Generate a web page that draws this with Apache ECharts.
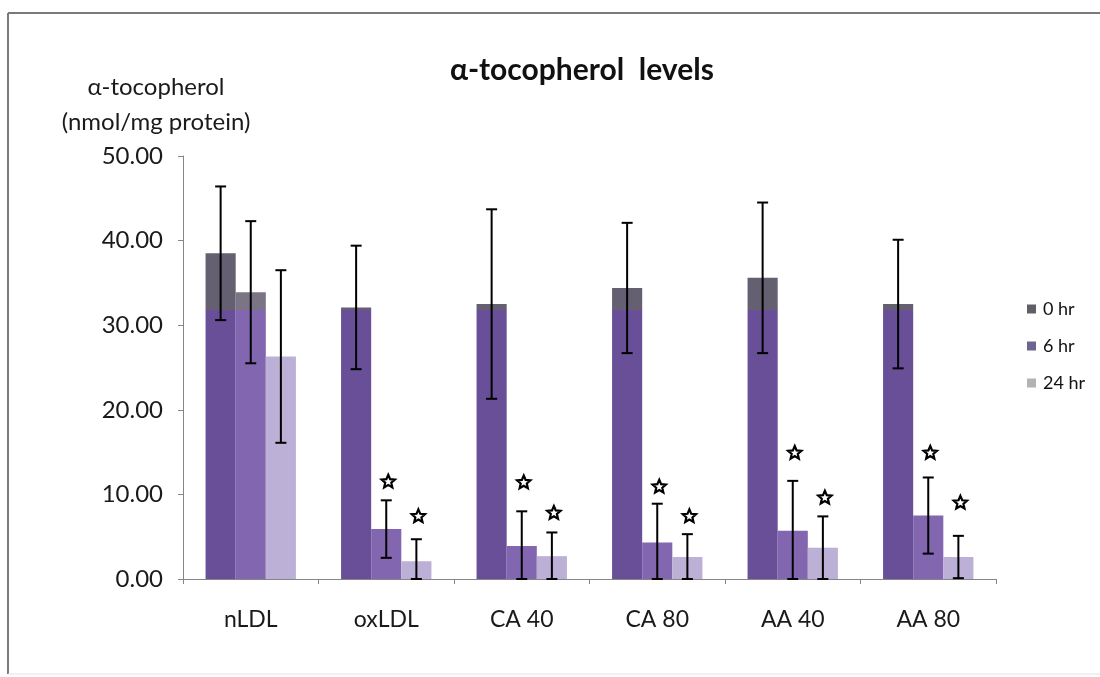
<!DOCTYPE html>
<html>
<head>
<meta charset="utf-8">
<title>α-tocopherol levels</title>
<script src="https://cdn.jsdelivr.net/npm/echarts@6/dist/echarts.min.js"></script>
<style>
  html, body { margin: 0; padding: 0; background: #ffffff; }
  #chart { width: 1100px; height: 677px; }
</style>
</head>
<body>
<div id="chart"></div>
<script>
// Groups along the x axis
var categories = ['nLDL', 'oxLDL', 'CA 40', 'CA 80', 'AA 40', 'AA 80'];

// Mean α-tocopherol (nmol/mg protein) per time point
var hr0  = [38.5, 32.1, 32.5, 34.4, 35.6, 32.5];
var hr6  = [33.9, 5.9, 3.9, 4.3, 5.7, 7.5];
var hr24 = [26.3, 2.1, 2.7, 2.6, 3.7, 2.6];

// Standard deviations
var err0  = [7.9, 7.3, 11.2, 7.7, 8.9, 7.6];
var err6  = [8.4, 3.4, 4.1, 4.6, 5.9, 4.5];
var err24 = [10.2, 2.6, 2.8, 2.7, 3.7, 2.5];

// Significance markers (value level where the star sits; null = none)
var star6  = [null, 11.5, 11.4, 10.9, 14.9, 14.9];
var star24 = [null, 7.4, 7.8, 7.4, 9.6, 9.0];

// Y axis ticks
var yTicks = { min: 0, max: 50, interval: 10 };

var seriesNames = ['0 hr', '6 hr', '24 hr'];
var FONT = 'Lato, "Open Sans", sans-serif';
var CAT_GAP = 0.333;   // share of each category left empty
var CHART_H = 677;
var SPLIT_Y = 310;     // pixel row where the bar tint changes

function barFill(upper, lower) {
  var s = SPLIT_Y / CHART_H;
  return new echarts.graphic.LinearGradient(0, 0, 0, CHART_H, [
    { offset: 0, color: upper },
    { offset: s, color: upper },
    { offset: s, color: lower },
    { offset: 1, color: lower }
  ], true);
}

var fills = [
  barFill('#645f71', '#684f98'),
  barFill('#7a7485', '#8266b0'),
  barFill('#c4bfca', '#bdb0d7')
];
var legendColors = ['#5f5f66', '#6b6690', '#b3b3b6'];

function starPoints(cx, cy, rOut, rIn) {
  var pts = [];
  for (var k = 0; k < 10; k++) {
    var r = k % 2 === 0 ? rOut : rIn;
    var a = -Math.PI / 2 + k * Math.PI / 5;
    pts.push([cx + r * Math.cos(a), cy + r * Math.sin(a)]);
  }
  return pts;
}

// Error bars (and significance stars) drawn on top of the bars of one series
function errorSeries(idx, means, errs, stars) {
  var data = means.map(function (m, i) {
    return [i, m, errs[i], stars ? stars[i] : null];
  });
  return {
    type: 'custom',
    name: seriesNames[idx] + ' error',
    z: 10,
    silent: true,
    data: data,
    encode: { x: 0, y: 1 },
    renderItem: function (params, api) {
      var cat = api.value(0);
      var mean = api.value(1);
      var err = api.value(2);
      var star = api.value(3);
      var band = api.size([1, 0])[0];
      var barW = band * (1 - CAT_GAP) / 3;
      var center = api.coord([cat, mean])[0] + (idx - 1) * barW;
      var top = api.coord([cat, mean + err])[1];
      var bottom = api.coord([cat, Math.max(0, mean - err)])[1];
      var half = 5.5;
      var style = { stroke: '#000000', lineWidth: 2 };
      var children = [
        { type: 'line', shape: { x1: center, y1: top, x2: center, y2: bottom }, style: style },
        { type: 'line', shape: { x1: center - half, y1: top, x2: center + half, y2: top }, style: style },
        { type: 'line', shape: { x1: center - half, y1: bottom, x2: center + half, y2: bottom }, style: style }
      ];
      if (star != null && !isNaN(star)) {
        var sy = api.coord([cat, star])[1];
        children.push({
          type: 'polygon',
          shape: { points: starPoints(center + 2, sy, 7, 3.2) },
          style: { fill: '#ffffff', stroke: '#000000', lineWidth: 2.2, lineJoin: 'miter' }
        });
      }
      return { type: 'group', children: children };
    }
  };
}

function barSeries(idx, values) {
  return {
    type: 'bar',
    name: seriesNames[idx],
    data: values,
    barGap: '0%',
    barCategoryGap: (CAT_GAP * 100).toFixed(1) + '%',
    itemStyle: { color: fills[idx] },
    emphasis: { disabled: true }
  };
}

var chart = echarts.init(document.getElementById('chart'), null, { renderer: 'canvas' });

chart.setOption({
  backgroundColor: '#ffffff',
  animation: false,
  title: {
    text: 'α-tocopherol  levels',
    left: 577,
    top: 50,
    textAlign: 'center',
    textStyle: { fontFamily: FONT, fontSize: 30, fontWeight: 'bold', color: '#111111' }
  },
  legend: {
    orient: 'vertical',
    left: 1022,
    top: 295,
    itemWidth: 9,
    itemHeight: 9,
    itemGap: 19,
    icon: 'rect',
    selectedMode: false,
    textStyle: { fontFamily: FONT, fontSize: 18, color: '#111111', padding: [0, 0, 0, 2] },
    data: seriesNames.map(function (n, i) {
      return { name: n, itemStyle: { color: legendColors[i] } };
    })
  },
  grid: { left: 183, right: 104, top: 156, bottom: 98 },
  xAxis: {
    type: 'category',
    data: categories,
    axisLine: { lineStyle: { color: '#868686', width: 1 } },
    axisTick: { show: true, length: 5, lineStyle: { color: '#868686' } },
    axisLabel: { fontFamily: FONT, fontSize: 23, color: '#1a1a1a', margin: 29 }
  },
  yAxis: {
    type: 'value',
    min: yTicks.min,
    max: yTicks.max,
    interval: yTicks.interval,
    axisLine: { show: true, lineStyle: { color: '#868686', width: 1 } },
    axisTick: { show: true, length: 5, lineStyle: { color: '#868686' } },
    splitLine: { show: false },
    axisLabel: {
      fontFamily: FONT, fontSize: 24, color: '#1a1a1a', margin: 20,
      formatter: function (v) { return v.toFixed(2); }
    }
  },
  graphic: [
    {
      type: 'text',
      x: 156,
      y: 70,
      style: {
        text: 'α-tocopherol\n(nmol/mg protein)',
        align: 'center',
        verticalAlign: 'top',
        fontFamily: FONT,
        fontSize: 24,
        lineHeight: 35,
        fill: '#1a1a1a'
      },
      z: 5
    },
    { type: 'line', shape: { x1: 8, y1: 13, x2: 8, y2: 674 }, style: { stroke: '#7a7a7a', lineWidth: 2 }, silent: true },
    { type: 'line', shape: { x1: 8, y1: 13, x2: 1100, y2: 13 }, style: { stroke: '#7a7a7a', lineWidth: 2 }, silent: true },
    { type: 'line', shape: { x1: 8, y1: 674, x2: 1100, y2: 674 }, style: { stroke: '#e2e2e2', lineWidth: 1 }, silent: true }
  ],
  series: [
    barSeries(0, hr0),
    barSeries(1, hr6),
    barSeries(2, hr24),
    errorSeries(0, hr0, err0, null),
    errorSeries(1, hr6, err6, star6),
    errorSeries(2, hr24, err24, star24)
  ]
});
</script>
</body>
</html>
